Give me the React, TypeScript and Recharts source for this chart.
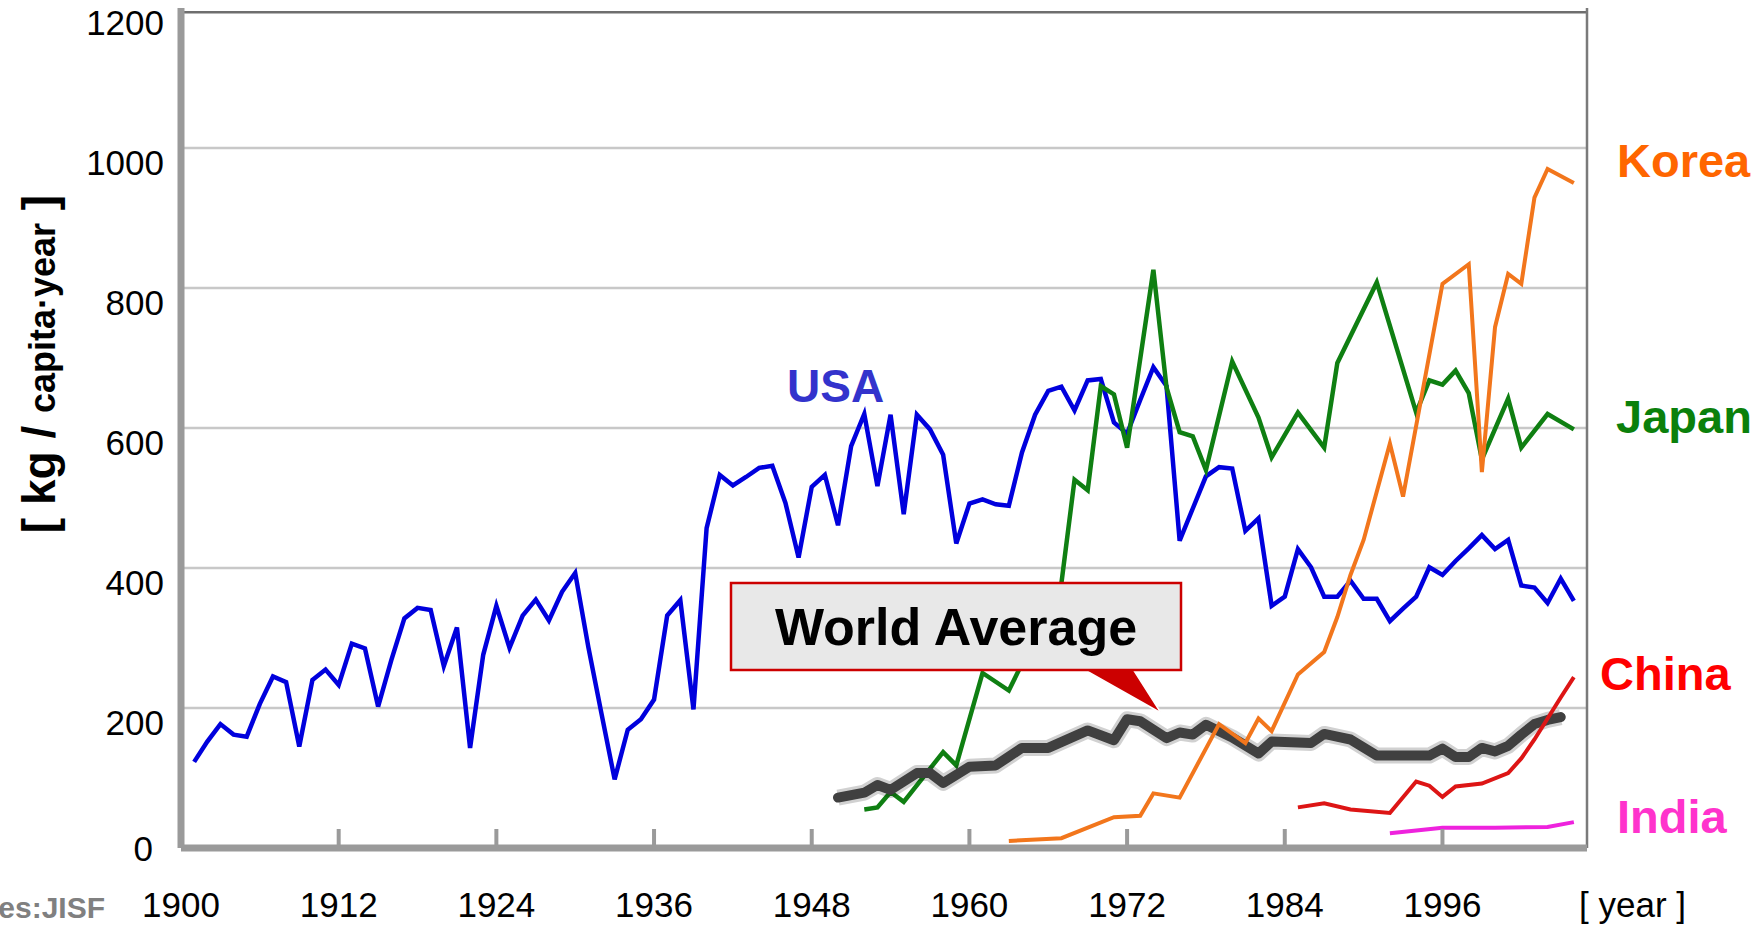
import React from "react";
import { LineChart, Line, XAxis, YAxis, CartesianGrid, ReferenceLine } from "recharts";

const FONT = '"Liberation Sans", Arial, sans-serif';

// USA: one value per year from 1901
const usaStart = 1901;
const usaValues = [
  123, 152, 177, 162, 159, 206, 245, 237, 145, 240,
  255, 233, 292, 285, 202, 268, 328, 343, 340, 260,
  315, 143, 276, 346, 286, 332, 355, 325, 366, 393,
  287, 192, 98, 169, 184, 212, 332, 354, 198, 457,
  533, 518, 530, 543, 546, 493, 415, 516, 533, 461,
  574, 620, 517, 619, 477, 619, 598, 562, 435, 492,
  498, 491, 489, 565, 619, 653, 659, 625, 668, 670,
  608, 592, 640, 687, 660, 439, 485, 531, 544, 542,
  453, 471, 346, 359, 427, 401, 359, 359, 382, 356,
  356, 324, 342, 359, 401, 390, 410, 428, 447, 427,
  440, 375, 372, 350, 385, 353,
];

const japanYears = [1952, 1953, 1954, 1955, 1958, 1959, 1961, 1963, 1967, 1968, 1969, 1970, 1971, 1972, 1974, 1975, 1976, 1977, 1978, 1980, 1982, 1983, 1985, 1987, 1988, 1991, 1994, 1995, 1996, 1997, 1998, 1999, 2001, 2002, 2004, 2006];
const japanValues = [55, 58, 80, 66, 137, 118, 250, 225, 378, 526, 511, 660, 648, 572, 826, 658, 594, 588, 540, 695, 615, 558, 622, 572, 693, 808, 622, 668, 662, 682, 650, 555, 642, 572, 620, 598];

const koreaYears = [1963, 1967, 1971, 1973, 1974, 1976, 1979, 1981, 1982, 1983, 1985, 1987, 1988, 1989, 1990, 1992, 1993, 1996, 1998, 1999, 2000, 2001, 2002, 2003, 2004, 2006];
const koreaValues = [10, 14, 44, 46, 78, 72, 177, 150, 185, 167, 248, 280, 330, 390, 440, 578, 502, 806, 834, 537, 744, 820, 806, 929, 970, 950];

const chinaYears = [1985, 1987, 1989, 1992, 1994, 1995, 1996, 1997, 1999, 2001, 2002, 2003, 2004, 2005, 2006];
const chinaValues = [58, 64, 55, 50, 95, 89, 73, 88, 92, 107, 128, 155, 185, 215, 244];

const indiaYears = [1992, 1996, 2000, 2004, 2006];
const indiaValues = [21, 29, 29, 30, 37];

const worldYears = [1950, 1952, 1953, 1954, 1956, 1957, 1958, 1960, 1962, 1964, 1966, 1969, 1971, 1972, 1973, 1975, 1976, 1977, 1978, 1980, 1982, 1983, 1986, 1987, 1989, 1991, 1995, 1996, 1997, 1998, 1999, 2000, 2001, 2002, 2003, 2004, 2005];
const worldValues = [72, 79, 90, 83, 107, 107, 93, 116, 118, 143, 143, 168, 154, 184, 181, 157, 165, 162, 176, 158, 135, 152, 150, 163, 155, 132, 132, 142, 130, 130, 143, 138, 146, 162, 177, 183, 187];

const xTicks = [1900, 1912, 1924, 1936, 1948, 1960, 1972, 1984, 1996];
const yTicks = [0, 200, 400, 600, 800, 1000, 1200];
const gridValues = [200, 400, 600, 800, 1000];

function rows(years: number[], values: number[]) {
  return years.map((year, i) => ({ year, value: values[i] }));
}

const usaData = usaValues.map((value, i) => ({ year: usaStart + i, value }));
const japanData = rows(japanYears, japanValues);
const koreaData = rows(koreaYears, koreaValues);
const chinaData = rows(chinaYears, chinaValues);
const indiaData = rows(indiaYears, indiaValues);
const worldData = rows(worldYears, worldValues);

function YTick(props: any) {
  const { x, y, payload } = props;
  const zero = payload.value === 0;
  return (
    <text x={zero ? x - 28 : x - 17} y={zero ? y + 13 : y + 27} textAnchor="end" fontSize={35} fontFamily={FONT} fill="#000">
      {payload.value}
    </text>
  );
}

function XTick(props: any) {
  const { x, y, payload } = props;
  return (
    <g>
      {payload.value !== 1900 && <line x1={x} x2={x} y1={y - 19} y2={y} stroke="#9a9a9a" strokeWidth={4} />}
      <text x={x} y={y + 69} textAnchor="middle" fontSize={35} fontFamily={FONT} fill="#000">
        {payload.value}
      </text>
    </g>
  );
}

export default function App() {
  return (
    <div style={{ position: "relative", width: 1764, height: 926, background: "#fff" }}>
      <style>{"body{margin:0}"}</style>
      <LineChart width={1764} height={926} margin={{ top: 8, right: 177, bottom: 48, left: 121 }}>
        <CartesianGrid vertical={false} horizontalValues={gridValues} stroke="#c8c8c8" strokeWidth={2.5} />
        <XAxis
          dataKey="year"
          type="number"
          domain={[1900, 2007]}
          ticks={xTicks}
          interval={0}
          height={30}
          tickSize={0}
          tickMargin={0}
          tickLine={false}
          tick={<XTick />}
          axisLine={{ stroke: "#9a9a9a", strokeWidth: 7 }}
          allowDataOverflow
        />
        <YAxis
          type="number"
          domain={[0, 1200]}
          ticks={yTicks}
          interval={0}
          width={60}
          tickSize={0}
          tickMargin={0}
          tickLine={false}
          tick={<YTick />}
          axisLine={{ stroke: "#9a9a9a", strokeWidth: 7 }}
        />
        <ReferenceLine y={1194} stroke="#6e6e6e" strokeWidth={2.5} />
        <ReferenceLine x={2007} stroke="#7a7a7a" strokeWidth={2.5} />

        <Line data={usaData} dataKey="value" stroke="#0000dd" strokeWidth={4.5} dot={false} isAnimationActive={false} />
        <Line data={japanData} dataKey="value" stroke="#0f7f12" strokeWidth={4.5} dot={false} isAnimationActive={false} />
        <Line data={worldData} dataKey="value" stroke="#000" strokeOpacity={0.18} strokeWidth={16} strokeLinejoin="round" dot={false} isAnimationActive={false} />
        <Line data={worldData} dataKey="value" stroke="#404040" strokeWidth={10} strokeLinejoin="round" strokeLinecap="round" dot={false} isAnimationActive={false} />
        <Line data={koreaData} dataKey="value" stroke="#f2761c" strokeWidth={4} dot={false} isAnimationActive={false} />
        <Line data={chinaData} dataKey="value" stroke="#dd1515" strokeWidth={4} dot={false} isAnimationActive={false} />
        <Line data={indiaData} dataKey="value" stroke="#ee22dd" strokeWidth={4} dot={false} isAnimationActive={false} />
      </LineChart>

      <svg width={1764} height={926} style={{ position: "absolute", left: 0, top: 0, pointerEvents: "none" }} fontFamily={FONT}>
        <text transform="rotate(-90, 55, 364)" x={55} y={364} textAnchor="middle" fontWeight="bold" fill="#000">
          <tspan fontSize={46}>[ kg / </tspan>
          <tspan fontSize={36}>capita·year</tspan>
          <tspan fontSize={46}> ]</tspan>
        </text>
        <text x={105} y={918} textAnchor="end" fontSize={30} fontWeight="bold" fill="#808080">Sources:JISF</text>
        <text x={1579} y={917} fontSize={35} fill="#000">[ year ]</text>

        <text x={787} y={402} fontSize={46} fontWeight="bold" fill="#3333cc">USA</text>
        <text x={1617} y={177} fontSize={47} fontWeight="bold" fill="#ff6600">Korea</text>
        <text x={1616} y={433} fontSize={47} fontWeight="bold" fill="#0b800b">Japan</text>
        <text x={1600} y={690} fontSize={47} fontWeight="bold" fill="#ff0000">China</text>
        <text x={1617} y={833} fontSize={47} fontWeight="bold" fill="#ff33cc">India</text>

        <polygon points="1083,669 1133,669 1161,713" fill="#cc0000" stroke="#fff" strokeWidth={1.5} />
        <rect x={731} y={583} width={450} height={87} fill="#e8e8e8" stroke="#cc0000" strokeWidth={2.5} />
        <text x={956} y={645} textAnchor="middle" fontSize={52} fontWeight="bold" fill="#000">World Average</text>
      </svg>
    </div>
  );
}
